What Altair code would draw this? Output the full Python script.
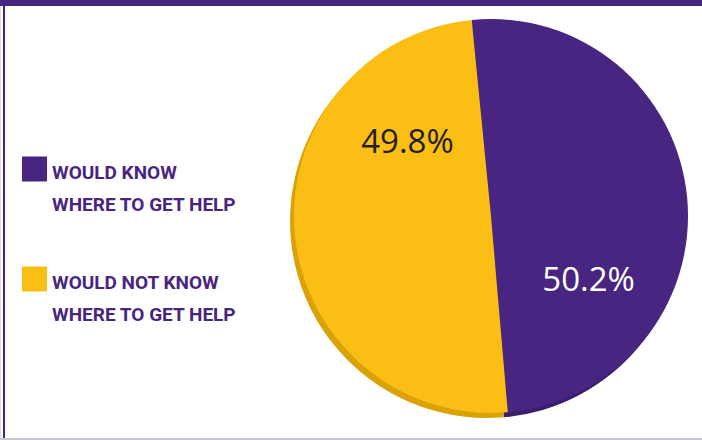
import altair as alt
import pandas as pd

categories = ["WOULD KNOW WHERE TO GET HELP", "WOULD NOT KNOW WHERE TO GET HELP"]
values = [50.2, 49.8]
labels = ["50.2%", "49.8%"]
colors = ["#472580", "#FBBE15"]
shadow_colors = ["#3A1D6B", "#D9A206"]
legend_line1 = ["WOULD KNOW", "WOULD NOT KNOW"]
legend_line2 = ["WHERE TO GET HELP", "WHERE TO GET HELP"]

df = pd.DataFrame({
    "cat": categories,
    "value": values,
    "label": labels,
    "order": [0, 1],
    "line1": legend_line1,
    "line2": legend_line2,
    "fill": colors,
    "shade": shadow_colors,
})

W, H = 702, 440
CX, CY, R = 491, 216, 197
OFF = -0.098
theta_scale = alt.Scale(domain=[0, sum(values)], range=[OFF, OFF + 6.283185])

base = alt.Chart(df)
theta = alt.Theta("value:Q", stack=True, scale=theta_scale)

shadow = base.mark_arc(radius=R, x=CX - 4, y=CY + 5).encode(
    theta=theta, order=alt.Order("order:Q"),
    color=alt.Color("shade:N", scale=None),
)

pie = base.mark_arc(radius=R, x=CX, y=CY).encode(
    theta=theta, order=alt.Order("order:Q"),
    color=alt.Color("fill:N", scale=None),
)

LABEL_FONT = "Open Sans"
lab_purple = base.mark_text(
    radius=100, x=CX, y=CY, dx=-2, dy=74, font=LABEL_FONT, fontSize=33, color="white"
).encode(
    theta=theta, order=alt.Order("order:Q"), text="label:N",
    opacity=alt.condition(alt.datum.order == 0, alt.value(1), alt.value(0)),
)

lab_yellow = base.mark_text(
    radius=100, x=CX, y=CY, dx=16, dy=-82, font=LABEL_FONT, fontSize=33, color="#231F20"
).encode(
    theta=theta, order=alt.Order("order:Q"), text="label:N",
    opacity=alt.condition(alt.datum.order == 1, alt.value(1), alt.value(0)),
)

# legend
LEG_FONT = "Roboto"
leg_y = alt.Scale(domain=[0, 1], range=[169, 279])
leg_sq = base.mark_square(size=625, x=34.5, filled=True, opacity=1).encode(
    y=alt.Y("order:Q", scale=leg_y, axis=None),
    color=alt.Color("fill:N", scale=None),
)
leg_t1 = base.mark_text(
    x=52, align="left", baseline="middle", font=LEG_FONT,
    fontWeight="bold", fontSize=19, color="#472580", dy=4
).encode(y=alt.Y("order:Q", scale=leg_y, axis=None), text="line1:N")
leg_t2 = base.mark_text(
    x=52, align="left", baseline="middle", font=LEG_FONT,
    fontWeight="bold", fontSize=19, color="#472580", dy=36
).encode(y=alt.Y("order:Q", scale=leg_y, axis=None), text="line2:N")

frame_df = pd.DataFrame({"k": [0]})
top_band = alt.Chart(frame_df).mark_rect(color="#472580").encode(
    x=alt.value(0), x2=alt.value(W), y=alt.value(0), y2=alt.value(6))
left_band = alt.Chart(frame_df).mark_rect(color="#472580").encode(
    x=alt.value(3), x2=alt.value(5), y=alt.value(0), y2=alt.value(H))
bottom_line = alt.Chart(frame_df).mark_rect(color="#C9C6D3").encode(
    x=alt.value(0), x2=alt.value(W), y=alt.value(438), y2=alt.value(440))

chart = alt.layer(
    shadow, pie, lab_purple, lab_yellow, leg_sq, leg_t1, leg_t2,
    top_band, left_band, bottom_line
).properties(
    width=W, height=H, padding=0, autosize=alt.AutoSizeParams(type="none")
).configure_view(stroke=None).configure(background="white")

chart.save("out.html", embed_options={"renderer": "svg", "actions": False})
